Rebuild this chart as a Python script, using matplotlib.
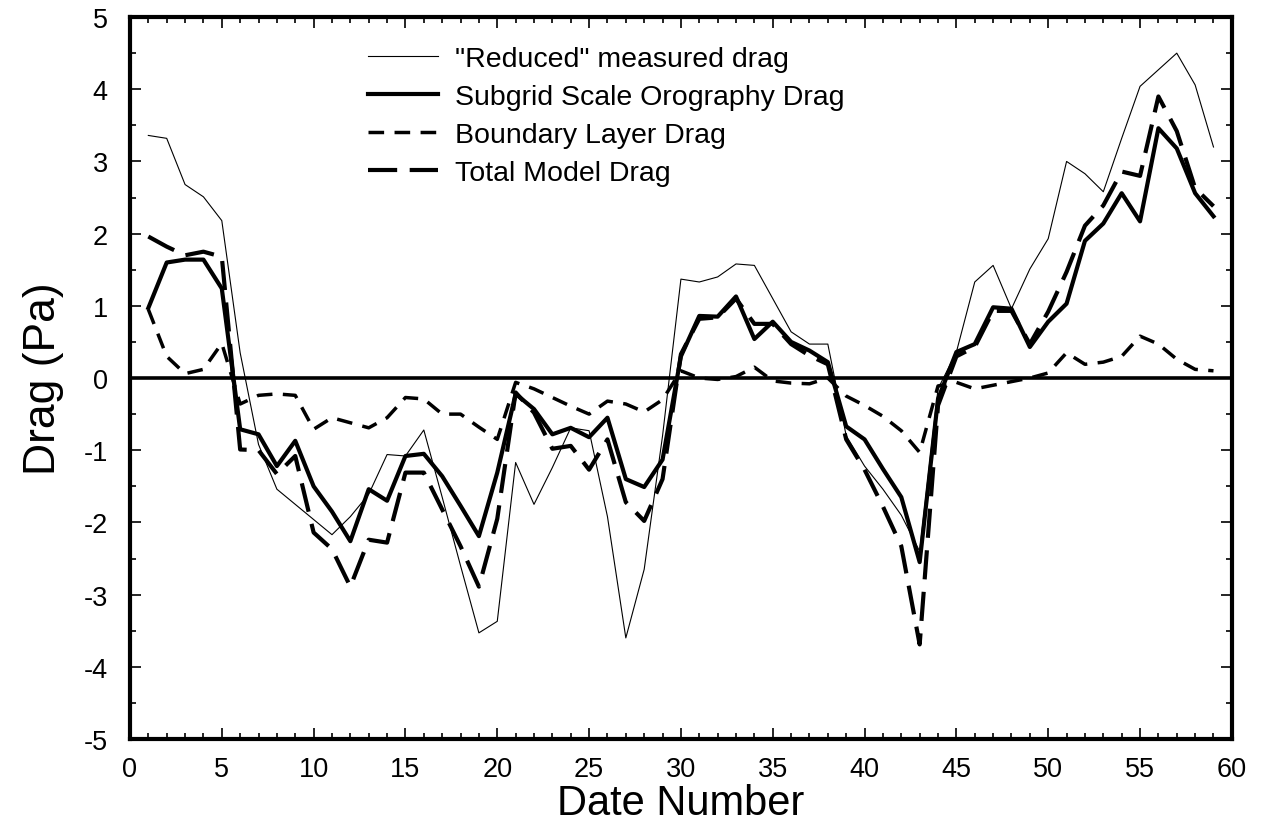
import numpy as np
import matplotlib
matplotlib.use('Agg')
from matplotlib import pyplot as plt
from matplotlib.ticker import MultipleLocator

plt.rcParams['font.family'] = ['Liberation Sans', 'DejaVu Sans']
plt.rcParams['axes.unicode_minus'] = False

# date numbers 1..59
dates = list(range(1, 60))

reduced = [3.36, 3.32, 2.68, 2.51, 2.18, 0.35, -0.92, -1.54, -1.75, -1.96,
           -2.17, -1.92, -1.61, -1.06, -1.08, -0.72, -1.65, -2.6, -3.53, -3.37,
           -1.17, -1.75, -1.24, -0.69, -0.73, -1.92, -3.6, -2.65, -0.8, 1.37,
           1.33, 1.4, 1.58, 1.56, 1.1, 0.64, 0.47, 0.47, -0.8, -1.22,
           -1.54, -1.9, -2.4, -0.15, 0.36, 1.33, 1.56, 0.96, 1.51, 1.93,
           3.0, 2.83, 2.58, 3.32, 4.04, 4.27, 4.5, 4.06, 3.2]

subgrid = [0.97, 1.6, 1.64, 1.64, 1.24, -0.71, -0.78, -1.22, -0.87, -1.5,
           -1.85, -2.26, -1.54, -1.7, -1.08, -1.05, -1.36, -1.77, -2.19, -1.31,
           -0.22, -0.43, -0.78, -0.69, -0.82, -0.55, -1.4, -1.51, -1.13, 0.3,
           0.86, 0.85, 1.13, 0.54, 0.78, 0.5, 0.38, 0.22, -0.67, -0.85,
           -1.26, -1.65, -2.55, -0.29, 0.36, 0.47, 0.98, 0.96, 0.43, 0.78,
           1.03, 1.9, 2.14, 2.56, 2.17, 3.46, 3.18, 2.56, 2.24]

boundary = [0.95, 0.3, 0.06, 0.12, 0.48, -0.36, -0.24, -0.22, -0.24, -0.71,
            -0.55, -0.62, -0.69, -0.55, -0.27, -0.29, -0.5, -0.5, -0.68, -0.85,
            -0.06, -0.15, -0.27, -0.39, -0.5, -0.32, -0.36, -0.47, -0.3, 0.1,
            0.0, -0.02, 0.02, 0.15, -0.04, -0.07, -0.08, 0.0, -0.25, -0.38,
            -0.53, -0.73, -1.03, -0.11, -0.06, -0.15, -0.1, -0.05, 0.0, 0.07,
            0.35, 0.19, 0.22, 0.3, 0.58, 0.47, 0.26, 0.12, 0.1]

total = [1.96, 1.82, 1.7, 1.75, 1.68, -0.99, -1.0, -1.33, -1.08, -2.14,
         -2.37, -2.89, -2.24, -2.28, -1.31, -1.31, -1.82, -2.33, -2.89, -1.95,
         -0.2, -0.48, -0.98, -0.94, -1.27, -0.85, -1.72, -1.98, -1.4, 0.33,
         0.82, 0.84, 1.1, 0.75, 0.75, 0.47, 0.31, 0.19, -0.85, -1.27,
         -1.78, -2.33, -3.69, -0.38, 0.3, 0.43, 0.93, 0.93, 0.47, 0.92,
         1.47, 2.11, 2.39, 2.86, 2.8, 3.9, 3.42, 2.63, 2.38]

fig = plt.figure(figsize=(12.68, 8.28), dpi=100)
ax = fig.add_axes([0.1025, 0.1063, 0.869, 0.8719])

ax.axhline(0, color='black', lw=2.6, zorder=1)

ax.plot(dates, reduced, color='black', lw=0.8, label='"Reduced" measured drag')
ax.plot(dates, subgrid, color='black', lw=3.0, label='Subgrid Scale Orography Drag')
ax.plot(dates, boundary, color='black', lw=2.5, dashes=(4.5, 3),
        label='Boundary Layer Drag')
ax.plot(dates, total, color='black', lw=3.0, dashes=(7, 3),
        label='Total Model Drag')

ax.set_xlim(0, 60)
ax.set_ylim(-5, 5)
ax.xaxis.set_major_locator(MultipleLocator(5))
ax.xaxis.set_minor_locator(MultipleLocator(1))
ax.yaxis.set_major_locator(MultipleLocator(1))
ax.yaxis.set_minor_locator(MultipleLocator(0.5))
ax.tick_params(which='both', direction='in', top=True, right=True,
               labelsize=19.5, width=1.2)
ax.tick_params(which='major', length=8)
ax.tick_params(which='minor', length=4)
ax.tick_params(axis='x', pad=12)
ax.tick_params(axis='y', pad=16)
for s in ax.spines.values():
    s.set_linewidth(3)

ax.set_xlabel('Date Number', fontsize=30, labelpad=1)
ax.set_ylabel('Drag (Pa)', fontsize=32, labelpad=14)

leg = ax.legend(loc='upper left', bbox_to_anchor=(0.193, 0.995), frameon=False,
                fontsize=20.5, handlelength=2.45, handletextpad=0.6,
                labelspacing=0.42)

fig.savefig('out.png', dpi=100)
